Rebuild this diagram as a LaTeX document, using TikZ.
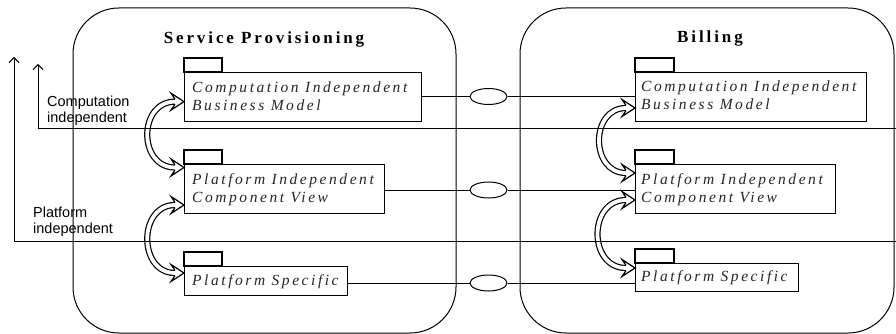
\documentclass[tikz,border=0pt]{standalone}
\usepackage{fontspec}
\setmainfont{Liberation Serif}
\newfontfamily\pkgfont{Liberation Serif}[LetterSpace=16.5]
\newfontfamily\headfont{Liberation Serif}[LetterSpace=17]
\newfontfamily\levelfont{Liberation Sans}
\usetikzlibrary{arrows.meta,shapes.geometric}

\tikzset{
  domainbox/.style={draw, line width=1pt, rounded corners=46pt},
  pkgbox/.style={draw, line width=1.3pt, rectangle, inner sep=0pt, anchor=north west},
  pkgtab/.style={draw, line width=1.3pt},
  pkgtext/.style={anchor=base west, inner sep=0pt, text=black!85,
    font=\pkgfont\itshape\fontsize{15.5}{18}\selectfont},
  headtext/.style={anchor=base, inner sep=0pt,
    font=\headfont\bfseries\fontsize{17}{20}\selectfont},
  leveltext/.style={anchor=base west, inner sep=0pt,
    font=\levelfont\fontsize{14.5}{16}\selectfont},
  levelline/.style={line width=1pt, -{Straight Barb[length=5pt,width=10pt,line width=1pt]}},
  trace/.style={line width=1pt},
  traceknot/.style={draw, ellipse, line width=1pt, inner sep=0pt,
    minimum width=37pt, minimum height=16pt},
}

% hollow arrow head pointing east, tip at #1
\newcommand\hollowhead[1]{%
  \begin{scope}[shift={(#1)}]
    \fill[white] (-9,-2.6) -- (-13,-8.5) -- (0,0) -- (-13,8.5) -- (-9,2.6) -- cycle;
    \draw[line width=1.2pt, line join=miter] (-9,-2.6) -- (-13,-8.5) -- (0,0) -- (-13,8.5) -- (-9,2.6);
  \end{scope}}

% curved hollow double arrow between two east-pointing tips #1 and #2, bulge #3
\newcommand\hollowlink[3]{%
  \draw[line width=6.2pt] ([xshift=-9pt]#1) .. controls +(-#3,0) and +(-#3,0) .. ([xshift=-9pt]#2);
  \draw[line width=3.8pt, white] ([xshift=-9pt]#1) .. controls +(-#3,0) and +(-#3,0) .. ([xshift=-9pt]#2);
  \hollowhead{#1}\hollowhead{#2}}

\begin{document}
\begin{tikzpicture}[x=1pt, y=-1pt]
\useasboundingbox (0,0) rectangle (896,334);
\clip (0,0) rectangle (896,334);

% the two domains
\draw[domainbox] (73,8) rectangle (456,333);
\draw[domainbox] (520,8) rectangle (894,333);
\node[headtext] (sptitle) at (264,43.3) {Service Provisioning};
\node[headtext] (bltitle) at (710,43) {Billing};

% Service Provisioning packages
\node[pkgbox, minimum width=237pt, minimum height=49pt] (sp1) at (184,72) {};
\node[pkgbox, minimum width=200pt, minimum height=49pt] (sp2) at (184,164) {};
\node[pkgbox, minimum width=163pt, minimum height=29pt] (sp3) at (184,266) {};
\foreach \p in {sp1,sp2,sp3} \draw[pkgtab] (\p.north west) rectangle ++(38,-14);
\node[pkgtext] (sp1a) at (192,92.7) {Computation Independent};
\node[pkgtext] (sp1b) at (192,110.7) {Business Model};
\node[pkgtext] (sp2a) at (192,184.3) {Platform Independent};
\node[pkgtext] (sp2b) at (192,202.7) {Component View};
\node[pkgtext] (sp3a) at (192,285.3) {Platform Specific};

% Billing packages
\node[pkgbox, minimum width=231pt, minimum height=49pt] (bl1) at (635,72) {};
\node[pkgbox, minimum width=200pt, minimum height=49pt] (bl2) at (635,164) {};
\node[pkgbox, minimum width=163pt, minimum height=28pt] (bl3) at (635,263) {};
\foreach \p in {bl1,bl2,bl3} \draw[pkgtab] (\p.north west) rectangle ++(39,-14);
\node[pkgtext] (bl1a) at (641,91.7) {Computation Independent};
\node[pkgtext] (bl1b) at (641,110) {Business Model};
\node[pkgtext] (bl2a) at (641,184) {Platform Independent};
\node[pkgtext] (bl2b) at (641,202.7) {Component View};
\node[pkgtext] (bl3a) at (641,281) {Platform Specific};

% traces between corresponding packages
\node[traceknot] (e1) at (488.5,96.5) {};
\node[traceknot] (e2) at (488.5,190) {};
\node[traceknot] (e3) at (488.5,283) {};
\draw[trace] (sp1.east |- e1) -- (e1) -- (e1 -| bl1.west);
\draw[trace] (sp2.east |- e2) -- (e2) -- (e2 -| bl2.west);
\draw[trace] (sp3.east |- e3) -- (e3) -- (e3 -| bl3.west);

% transformations between levels
\coordinate (sp1t) at ([yshift=-4.5pt]sp1.west);
\coordinate (sp2t) at ([yshift=-3.5pt]sp2.north west);
\coordinate (sp2u) at ([yshift=-41pt]sp2.north west);
\coordinate (sp3t) at ([yshift=-7pt]sp3.north west);
\hollowlink{sp1t}{sp2t}{37}
\hollowlink{sp2u}{sp3t}{37}
\coordinate (bl1t) at ([yshift=-36pt]bl1.north west);
\coordinate (bl2t) at ([yshift=-9pt]bl2.north west);
\coordinate (bl2u) at ([yshift=-36pt]bl2.north west);
\coordinate (bl3t) at ([yshift=-5pt]bl3.north west);
\hollowlink{bl1t}{bl2t}{36}
\hollowlink{bl2u}{bl3t}{38}

% abstraction levels
\coordinate (ciend) at (896,128);
\coordinate (cicorner) at (38,128);
\coordinate (citop) at (38,64);
\draw[levelline] (ciend) -- (cicorner) -- (citop);
\node[leveltext] (cilab1) at (47,106.7) {Computation};
\node[leveltext] (cilab2) at (47,122) {independent};

\coordinate (piend) at (896,241);
\coordinate (picorner) at (14,241);
\coordinate (pitop) at (14,57);
\draw[levelline] (piend) -- (picorner) -- (pitop);
\node[leveltext] (pilab1) at (33,217.3) {Platform};
\node[leveltext] (pilab2) at (33,233.3) {independent};
\end{tikzpicture}
\end{document}
